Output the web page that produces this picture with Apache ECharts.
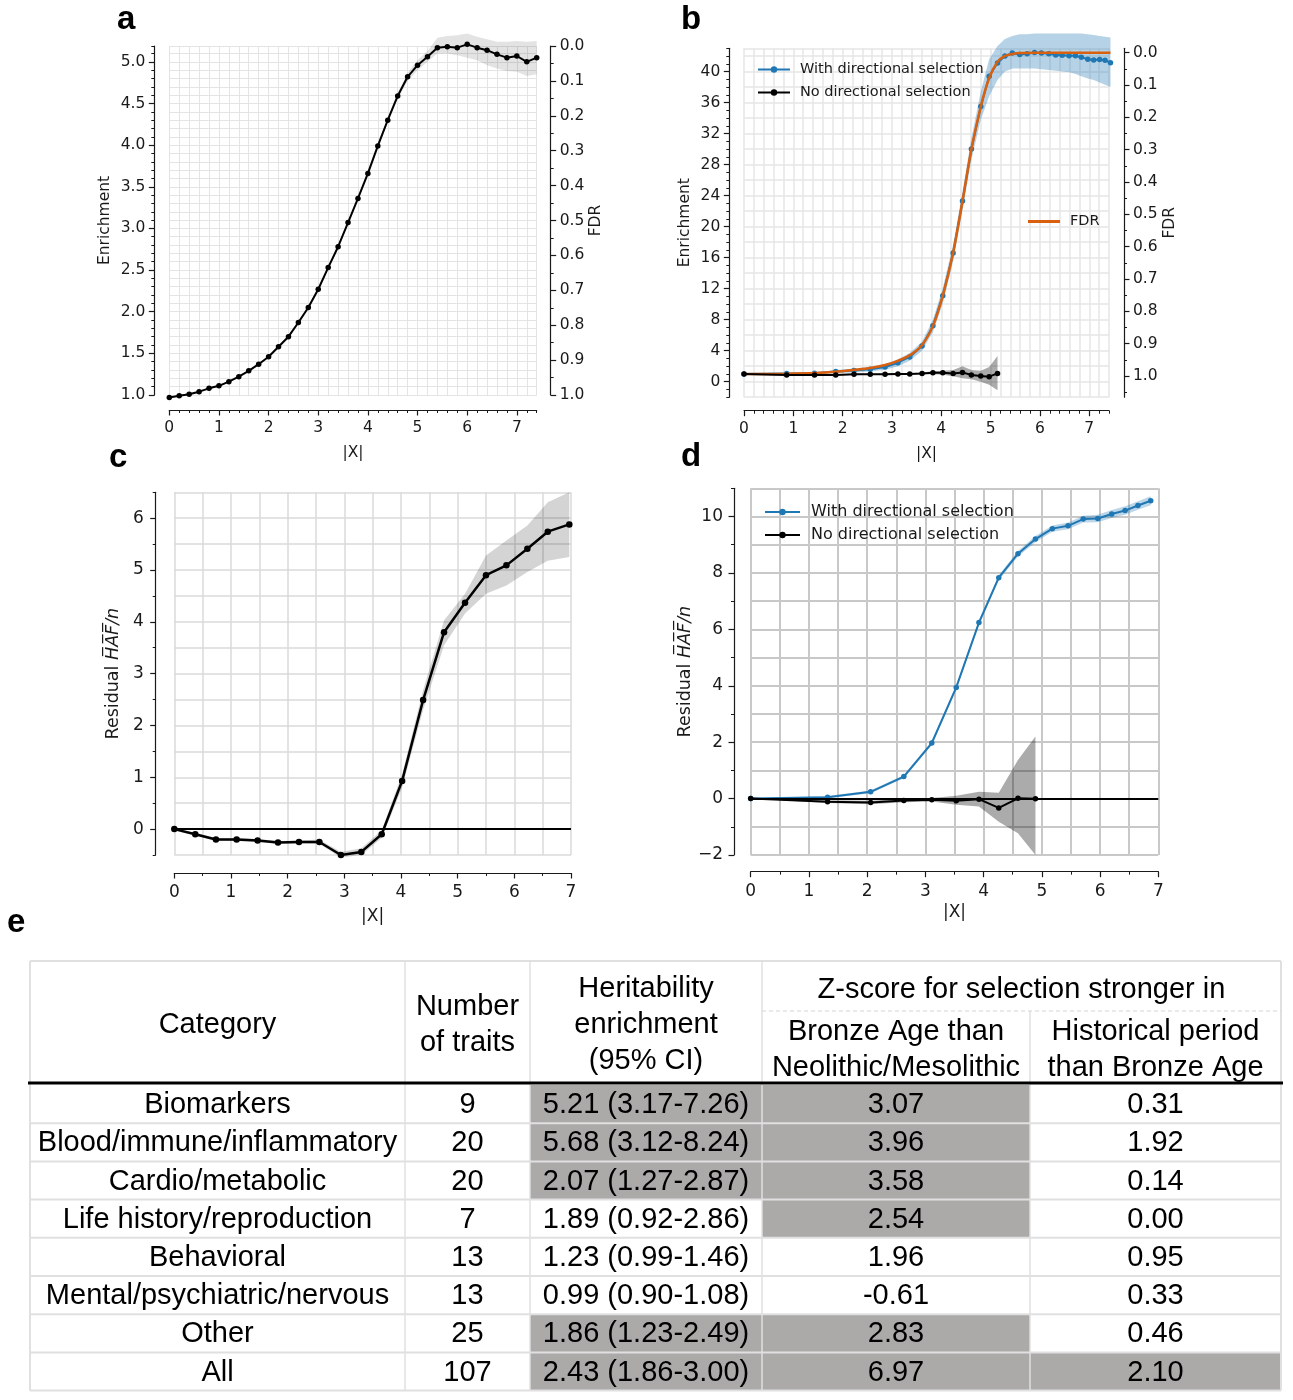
<!DOCTYPE html>
<html>
<head>
<meta charset="utf-8">
<script src="https://cdn.jsdelivr.net/npm/echarts@6/dist/echarts.min.js"></script>
<style>
html,body{margin:0;padding:0;background:#fff;}
#chart{width:1293px;height:1400px;}
</style>
</head>
<body>
<div id="chart"></div>
<script>
// ---------------- Panel a ----------------
const aX = [0,0.2,0.4,0.6,0.8,1.0,1.2,1.4,1.6,1.8,2.0,2.2,2.4,2.6,2.8,3.0,3.2,3.4,3.6,3.8,4.0,4.2,4.4,4.6,4.8,5.0,5.2,5.4,5.6,5.8,6.0,6.2,6.4,6.6,6.8,7.0,7.2,7.4];
const aEnrich = [0.97,0.99,1.01,1.04,1.08,1.11,1.16,1.22,1.29,1.37,1.46,1.58,1.70,1.87,2.05,2.27,2.53,2.78,3.07,3.36,3.66,3.99,4.30,4.59,4.82,4.96,5.06,5.17,5.18,5.17,5.21,5.17,5.14,5.09,5.05,5.07,5.00,5.05];
const aLow = [0.96,0.98,1.00,1.03,1.07,1.10,1.15,1.21,1.28,1.36,1.45,1.56,1.68,1.85,2.03,2.25,2.51,2.76,3.05,3.34,3.63,3.96,4.27,4.55,4.77,4.90,5.00,5.10,5.10,5.08,5.05,5.02,4.96,4.92,4.89,4.88,4.83,4.85];
const aHigh = [0.98,1.00,1.02,1.05,1.09,1.12,1.17,1.23,1.30,1.38,1.47,1.60,1.72,1.89,2.07,2.29,2.55,2.80,3.09,3.38,3.69,4.02,4.33,4.63,4.87,5.02,5.13,5.29,5.31,5.32,5.34,5.30,5.27,5.24,5.24,5.25,5.24,5.25];
const aEnrichTicks = [1.0,1.5,2.0,2.5,3.0,3.5,4.0,4.5,5.0];
const fdrTicks = [0,0.1,0.2,0.3,0.4,0.5,0.6,0.7,0.8,0.9,1.0];
const fdrMinorTicks = [0.05,0.15,0.25,0.35,0.45,0.55,0.65,0.75,0.85,0.95,1.05];
const xTicks = [0,1,2,3,4,5,6,7];

// ---------------- Panel b ----------------
const bX = [0,0.865,1.43,1.86,2.23,2.56,2.86,3.12,3.36,3.61,3.83,4.03,4.24,4.43,4.61,4.80,4.97,5.14,5.29,5.44,5.59,5.74,5.89,6.03,6.18,6.32,6.45,6.59,6.72,6.84,6.97,7.09,7.21,7.32,7.43];
const bWith = [1.0,1.05,1.08,1.3,1.45,1.6,1.9,2.45,3.2,4.6,7.2,11.1,16.6,23.3,30.0,35.5,39.4,41.1,42.0,42.4,42.2,42.3,42.45,42.4,42.3,42.15,42.1,42.05,42.05,41.85,41.6,41.5,41.55,41.45,41.15];
const bWithLow = [0.9,0.95,0.95,1.1,1.2,1.3,1.55,2.0,2.7,4.0,6.4,10.1,15.5,22.1,28.6,33.8,36.8,38.9,40.0,40.4,40.4,40.4,40.4,40.3,40.2,40.1,40.0,39.9,39.7,39.4,39.1,38.9,38.6,38.3,38.0];
const bWithHigh = [1.1,1.15,1.2,1.5,1.7,1.9,2.25,2.9,3.7,5.2,8.0,12.1,17.7,24.5,31.4,37.4,41.6,43.3,44.2,44.6,44.8,44.8,44.9,44.9,44.9,44.9,44.9,44.9,44.9,44.9,44.8,44.7,44.6,44.5,44.4];
const bNoX = [0,0.865,1.43,1.86,2.23,2.56,2.86,3.12,3.36,3.61,3.83,4.03,4.24,4.43,4.61,4.80,4.97,5.14];
const bNo = [1.0,0.86,0.86,0.86,0.95,0.95,0.95,1.0,1.0,1.07,1.16,1.16,1.07,1.2,0.86,0.73,0.65,1.07];
const bNoLow = [0.95,0.78,0.78,0.78,0.86,0.86,0.85,0.9,0.9,0.95,0.95,0.9,0.7,0.45,0.3,0.0,-0.4,-1.1];
const bNoHigh = [1.05,0.94,0.94,0.94,1.04,1.04,1.05,1.1,1.1,1.2,1.35,1.4,1.5,2.0,1.5,1.4,1.9,3.3];
const bFdrX = [0,0.865,1.43,1.86,2.23,2.56,2.86,3.12,3.36,3.61,3.83,4.03,4.24,4.43,4.61,4.80,4.97,5.14,5.29,5.44,5.59,5.89,7.43];
const bFdr = [0.994,0.993,0.991,0.987,0.981,0.975,0.966,0.953,0.936,0.904,0.845,0.752,0.619,0.459,0.299,0.167,0.079,0.028,0.010,0.004,0.001,0.0,0.0];
const bEnrichTicks = [0,4,8,12,16,20,24,28,32,36,40];

// ---------------- Panel c ----------------
const cX = [0,0.37,0.735,1.1,1.47,1.83,2.2,2.56,2.94,3.3,3.66,4.02,4.39,4.76,5.13,5.5,5.86,6.23,6.59,6.97];
const cHaf = [0,-0.1,-0.2,-0.2,-0.22,-0.26,-0.25,-0.25,-0.5,-0.44,-0.1,0.93,2.49,3.80,4.37,4.90,5.09,5.41,5.74,5.88];
const cLow = [-0.02,-0.13,-0.23,-0.23,-0.25,-0.29,-0.28,-0.29,-0.55,-0.5,-0.17,0.8,2.3,3.55,4.16,4.54,4.70,4.96,5.18,5.25];
const cHigh = [0.02,-0.07,-0.17,-0.17,-0.19,-0.23,-0.22,-0.20,-0.44,-0.37,-0.02,1.06,2.68,4.03,4.54,5.28,5.57,5.86,6.31,6.5];
const cTicks = [0,1,2,3,4,5,6];

// ---------------- Panel d ----------------
const dWithX = [0,1.32,2.06,2.63,3.11,3.53,3.92,4.26,4.59,4.89,5.18,5.45,5.71,5.96,6.20,6.43,6.65,6.87];
const dWith = [0,0.05,0.24,0.78,1.97,3.94,6.24,7.83,8.68,9.20,9.57,9.67,9.91,9.93,10.09,10.21,10.39,10.56];
const dWithLow = [0,0.01,0.19,0.72,1.90,3.86,6.15,7.74,8.58,9.09,9.46,9.55,9.79,9.80,9.95,10.06,10.24,10.40];
const dWithHigh = [0,0.09,0.29,0.84,2.04,4.02,6.33,7.92,8.78,9.31,9.68,9.79,10.03,10.06,10.23,10.36,10.54,10.72];
const dNoX = [0,1.32,2.06,2.63,3.11,3.53,3.92,4.26,4.59,4.89];
const dNo = [0,-0.11,-0.14,-0.07,-0.04,-0.08,-0.02,-0.33,0.01,-0.01];
const dNoLow = [0,-0.16,-0.2,-0.13,-0.1,-0.22,-0.28,-0.82,-1.23,-2.0];
const dNoHigh = [0,-0.06,-0.08,-0.01,0.02,0.1,0.24,0.21,1.37,2.2];
const dTicks = [-2,0,2,4,6,8,10];

// ---------------- Panel e (table) ----------------
const categories = ['Biomarkers','Blood/immune/inflammatory','Cardio/metabolic','Life history/reproduction','Behavioral','Mental/psychiatric/nervous','Other','All'];
const numberOfTraits = [9,20,20,7,13,13,25,107];
const heritEnrich = [5.21,5.68,2.07,1.89,1.23,0.99,1.86,2.43];
const heritLow = [3.17,3.12,1.27,0.92,0.99,0.90,1.23,1.86];
const heritHigh = [7.26,8.24,2.87,2.86,1.46,1.08,2.49,3.00];
const zBronze = [3.07,3.96,3.58,2.54,1.96,-0.61,2.83,6.97];
const zHistorical = [0.31,1.92,0.14,0.00,0.95,0.33,0.46,2.10];
const heritShaded = [1,1,1,0,0,0,1,1];
const bronzeShaded = [1,1,1,1,0,0,1,1];
const historicalShaded = [0,0,0,0,0,0,0,1];

// ---------------- styling ----------------
const FONT = 'DejaVu Sans';
const TFONT = 'Liberation Sans';
const INK = '#1a1a1a';
const BLUE = '#1f77b4';
const ORANGE = '#d9600e';
const gridA = {color:'#e4e4e4', width:1};
const gridB = {color:'#e6e6e6', width:1.5};
const gridC = {color:'#dadada', width:1.5};
const gridD = {color:'#c8c8c8', width:2};
const lbl = fs => ({color:INK, fontFamily:FONT, fontSize:fs});
const intFmt = v => (v < 0 ? '\u2212' : '') + Math.abs(Math.round(v));

function gridX(gi, max, step, offset, gl) {
  return {type:'value', gridIndex:gi, position:'bottom', offset, min:0, max, interval:step,
    axisLine:{show:true, onZero:false, lineStyle:{color:INK, width:1.2}},
    axisTick:{show:true, length:3, lineStyle:{color:INK, width:1}},
    axisLabel:{show:false}, splitLine:{show:true, lineStyle:gl}};
}
function majorX(gi, max, offset, nameGap, fs, margin) {
  return {type:'value', gridIndex:gi, position:'bottom', offset, min:0, max, interval:1,
    axisLine:{show:false, onZero:false},
    axisTick:{show:true, length:5.5, customValues:xTicks, lineStyle:{color:INK, width:1.2}},
    axisLabel:Object.assign({show:true, margin, customValues:xTicks, formatter:intFmt}, lbl(fs)),
    splitLine:{show:false},
    name:'|X|', nameLocation:'middle', nameGap, nameTextStyle:lbl(fs)};
}
function gridY(gi, min, max, step, offset, gl, minor) {
  return {type:'value', gridIndex:gi, position:'left', offset, min, max, interval:step,
    axisLine:{show:true, onZero:false, lineStyle:{color:INK, width:1.2}},
    axisTick:{show:true, length:3, lineStyle:{color:INK, width:1}},
    minorTick: minor ? {show:true, splitNumber:minor, length:3, lineStyle:{color:INK, width:1}} : {show:false},
    axisLabel:{show:false}, splitLine:{show:true, lineStyle:gl}};
}
function majorY(gi, min, max, step, ticks, offset, fmt, name, nameGap, fs, nfs, margin, rich) {
  const ax = {type:'value', gridIndex:gi, position:'left', offset, min, max, interval:step,
    axisLine:{show:false, onZero:false},
    axisTick:{show:true, length:5.5, customValues:ticks, lineStyle:{color:INK, width:1.2}},
    axisLabel:Object.assign({show:true, margin, customValues:ticks, formatter:fmt}, lbl(fs)),
    splitLine:{show:false},
    name, nameLocation:'middle', nameRotate:90, nameGap, nameTextStyle:lbl(nfs)};
  if (rich) ax.nameTextStyle.rich = rich;
  return ax;
}
const residualRich = {
  r:{fontFamily:FONT, fontSize:17.5, color:INK},
  h:{fontFamily:FONT, fontSize:17.5, color:INK, fontStyle:'italic'}
};
const residualName = '{r|Residual }{h|H\u0305A\u0305F\u0305/n}';

function band(xi, yi, xs, lo, hi, color) {
  const data = xs.map((x, i) => [x, lo[i], hi[i]]);
  return {type:'custom', xAxisIndex:xi, yAxisIndex:yi, silent:true, z:1, clip:false,
    data, encode:{x:0, y:[1,2]},
    renderItem(params, api) {
      if (params.dataIndex !== 0) return null;
      const pts = [];
      for (let i = 0; i < data.length; i++) pts.push(api.coord([data[i][0], data[i][2]]));
      for (let i = data.length - 1; i >= 0; i--) pts.push(api.coord([data[i][0], data[i][1]]));
      return {type:'polygon', shape:{points:pts}, style:{fill:color}};
    }};
}
function line(name, xi, yi, xs, ys, color, width, sym, z) {
  return {type:'line', name, xAxisIndex:xi, yAxisIndex:yi,
    data:xs.map((x, i) => [x, ys[i]]),
    symbol: sym ? 'circle' : 'none', symbolSize: sym || 0, showSymbol: !!sym,
    clip:false, z: z || 3, silent:true,
    lineStyle:{color, width}, itemStyle:{color}, emphasis:{disabled:true}};
}

// ---------------- table graphics ----------------
const TB = {cols:[30,405,530,762,1030,1281], top:961, split:1011, head:1083, rowTop:1085, rowH:38.2};
const tableEls = [];
const tBottom = TB.rowTop + categories.length * TB.rowH;
const shadeCols = {2:heritShaded, 3:bronzeShaded, 4:historicalShaded};
categories.forEach((c, r) => {
  [2,3,4].forEach(k => {
    if (shadeCols[k][r]) tableEls.push({type:'rect', silent:true, z:1,
      shape:{x:TB.cols[k], y:TB.rowTop + r*TB.rowH, width:TB.cols[k+1]-TB.cols[k], height:TB.rowH},
      style:{fill:'#aca9a9'}});
  });
});
function hline(y, x1, x2, stroke, w, dash) {
  tableEls.push({type:'line', silent:true, z:2, shape:{x1, y1:y, x2, y2:y},
    style:{stroke, lineWidth:w, lineDash:dash || null}});
}
function vline(x, y1, y2, stroke, w) {
  tableEls.push({type:'line', silent:true, z:2, shape:{x1:x, y1, x2:x, y2}, style:{stroke, lineWidth:w}});
}
const LIGHT = '#e0e0e0';
for (let r = 1; r <= categories.length; r++) hline(TB.rowTop + r*TB.rowH, TB.cols[0], TB.cols[5], LIGHT, 2);
hline(TB.top, TB.cols[0], TB.cols[5], LIGHT, 2);
vline(TB.cols[0], TB.top, tBottom, LIGHT, 2);
vline(TB.cols[5], TB.top, tBottom, LIGHT, 2);
[1,2,3].forEach(k => vline(TB.cols[k], TB.top, tBottom, LIGHT, 1.5));
vline(TB.cols[4], TB.split, tBottom, LIGHT, 1.5);
hline(TB.split, TB.cols[3], TB.cols[5], '#d4d4d4', 1, [4,3]);
hline(TB.head, TB.cols[0] - 2, TB.cols[5] + 2, '#000', 3);

function ttext(str, x, y, size) {
  tableEls.push({type:'text', silent:true, z:3, x, y,
    style:{text:str, fill:'#000', fontFamily:TFONT, fontSize:size || 29, lineHeight:36,
      align:'center', verticalAlign:'middle', textAlign:'center', textVerticalAlign:'middle'}});
}
const colMid = k => (TB.cols[k] + TB.cols[k+1]) / 2;
ttext('Category', colMid(0), 1025);
ttext('Number\nof traits', colMid(1), 1025);
ttext('Heritability\nenrichment\n(95% CI)', colMid(2), 1025);
ttext('Z-score for selection stronger in', (TB.cols[3] + TB.cols[5]) / 2, 990);
ttext('Bronze Age than\nNeolithic/Mesolithic', colMid(3), 1050);
ttext('Historical period\nthan Bronze Age', colMid(4), 1050);
categories.forEach((c, r) => {
  const y = TB.rowTop + (r + 0.5) * TB.rowH + 1;
  ttext(c, colMid(0), y);
  ttext(String(numberOfTraits[r]), colMid(1), y);
  ttext(heritEnrich[r].toFixed(2) + ' (' + heritLow[r].toFixed(2) + '-' + heritHigh[r].toFixed(2) + ')', colMid(2), y);
  ttext(zBronze[r].toFixed(2), colMid(3), y);
  ttext(zHistorical[r].toFixed(2), colMid(4), y);
});
// panel letters
[['a',117,20],['b',681,20],['c',109,458],['d',681,457],['e',7,923]].forEach(([t,x,y]) => {
  tableEls.push({type:'text', silent:true, z:3, x, y,
    style:{text:t, fill:'#000', fontFamily:TFONT, fontWeight:'bold', fontSize:33,
      align:'left', verticalAlign:'middle', textAlign:'left', textVerticalAlign:'middle'}});
});

// ---------------- option ----------------
const legendB = {color:INK, fontFamily:FONT, fontSize:14.5, padding:[0,0,0,5]};
const legendD = {color:INK, fontFamily:FONT, fontSize:16, padding:[0,0,0,6]};
const option = {
  animation:false,
  backgroundColor:'#fff',
  grid:[
    {left:169.3, top:46, width:367.4, height:349},
    {left:744, top:48.3, width:365, height:348.9},
    {left:174.3, top:492.3, width:396.7, height:362.7},
    {left:750.7, top:488.3, width:407.6, height:366.7}
  ],
  legend:[
    {data:['With directional selection','No directional selection'], orient:'vertical', left:752, top:57,
     itemWidth:32, itemHeight:8, itemGap:8, selectedMode:false, textStyle:legendB},
    {data:[{name:'FDR', icon:'rect'}], orient:'vertical', left:1023, top:209, itemWidth:32, itemHeight:3,
     selectedMode:false, textStyle:legendB},
    {data:['With directional selection','No directional selection'], orient:'vertical', left:759, top:499,
     itemWidth:35, itemHeight:8, itemGap:7, selectedMode:false, textStyle:legendD}
  ],
  xAxis:[
    gridX(0, 7.4, 0.2, 15, gridA),
    majorX(0, 7.4, 15, 35, 15.5, 10),
    gridX(1, 7.4, 0.2, 13.5, gridB),
    majorX(1, 7.4, 13.5, 35, 15.5, 10),
    gridX(2, 7, 0.5, 18, gridC),
    majorX(2, 7, 18, 35, 17, 11),
    gridX(3, 7, 0.5, 16.7, gridD),
    majorX(3, 7, 16.7, 32, 17, 11)
  ],
  yAxis:[
    gridY(0, 1.0, 5.19, 0.1, 15, gridA, 0),
    majorY(0, 1.0, 5.19, 0.5, aEnrichTicks, 15, v => v.toFixed(1), 'Enrichment', 41, 15.5, 15.5, 9),
    {type:'value', gridIndex:0, position:'right', offset:14, min:0, max:1, interval:0.1, inverse:true,
     axisLine:{show:true, onZero:false, lineStyle:{color:INK, width:1.2}},
     axisTick:{show:true, length:5.5, lineStyle:{color:INK, width:1.2}},
     minorTick:{show:true, splitNumber:2, length:3, lineStyle:{color:INK, width:1}},
     axisLabel:Object.assign({margin:9, formatter:v => v.toFixed(1)}, lbl(15.5)),
     splitLine:{show:false}, name:'FDR', nameLocation:'middle', nameRotate:90, nameGap:36, nameTextStyle:lbl(15.5)},
    gridY(1, -2, 43, 2, 14.7, gridB, 2),
    majorY(1, -2, 43, 4, bEnrichTicks, 14.7, intFmt, 'Enrichment', 36, 15.5, 15.5, 9),
    {type:'value', gridIndex:1, position:'right', offset:15, min:-0.0136, max:1.0656, inverse:true,
     axisLine:{show:true, onZero:false, lineStyle:{color:INK, width:1.2}},
     axisTick:{show:true, length:5.5, customValues:fdrTicks, lineStyle:{color:INK, width:1.2}},
     axisLabel:Object.assign({margin:9, customValues:fdrTicks, formatter:v => v.toFixed(1)}, lbl(15.5)),
     splitLine:{show:false}, name:'FDR', nameLocation:'middle', nameRotate:90, nameGap:36, nameTextStyle:lbl(15.5)},
    {type:'value', gridIndex:1, position:'right', offset:15, min:-0.0136, max:1.0656, inverse:true,
     axisLine:{show:false, onZero:false},
     axisTick:{show:true, length:3, customValues:fdrMinorTicks, lineStyle:{color:INK, width:1}},
     axisLabel:{show:false}, splitLine:{show:false}},
    gridY(2, -0.5, 6.5, 0.5, 18.6, gridC, 0),
    majorY(2, -0.5, 6.5, 1, cTicks, 18.6, intFmt, residualName, 33, 17, 17.5, 12, residualRich),
    gridY(3, -2, 11, 1, 16.7, gridD, 0),
    majorY(3, -2, 11, 2, dTicks, 16.7, intFmt, residualName, 40, 17, 17.5, 11, residualRich)
  ],
  series:[
    // a
    band(0, 0, aX, aLow, aHigh, 'rgba(0,0,0,0.11)'),
    line('Enrichment', 0, 0, aX, aEnrich, '#000', 2, 5.5),
    // b
    band(2, 3, bX, bWithLow, bWithHigh, 'rgba(31,119,180,0.33)'),
    band(2, 3, bNoX, bNoLow, bNoHigh, 'rgba(0,0,0,0.33)'),
    line('With directional selection', 2, 3, bX, bWith, BLUE, 2, 5.5),
    Object.assign(line('FDR', 2, 5, bFdrX, bFdr, ORANGE, 2.5, 0, 4), {smooth:0.3}),
    line('No directional selection', 2, 3, bNoX, bNo, '#000', 2, 5.5, 5),
    // c
    band(4, 7, cX, cLow, cHigh, 'rgba(0,0,0,0.17)'),
    Object.assign(line('Residual c', 4, 7, cX, cHaf, '#000', 2.5, 6.5), {
      markLine:{silent:true, symbol:'none', label:{show:false}, animation:false,
        lineStyle:{color:'#000', width:2, type:'solid'}, data:[{yAxis:0}]}}),
    // d
    band(6, 9, dWithX, dWithLow, dWithHigh, 'rgba(31,119,180,0.3)'),
    band(6, 9, dNoX, dNoLow, dNoHigh, 'rgba(0,0,0,0.33)'),
    line('With directional selection', 6, 9, dWithX, dWith, BLUE, 2, 5.5),
    Object.assign(line('No directional selection', 6, 9, dNoX, dNo, '#000', 2, 5.5, 5), {
      markLine:{silent:true, symbol:'none', label:{show:false}, animation:false,
        lineStyle:{color:'#000', width:2, type:'solid'}, data:[{yAxis:0}]}})
  ],
  graphic:{elements:tableEls}
};
const chart = echarts.init(document.getElementById('chart'), null, {renderer:'canvas', width:1293, height:1400});
chart.setOption(option);
</script>
</body>
</html>
